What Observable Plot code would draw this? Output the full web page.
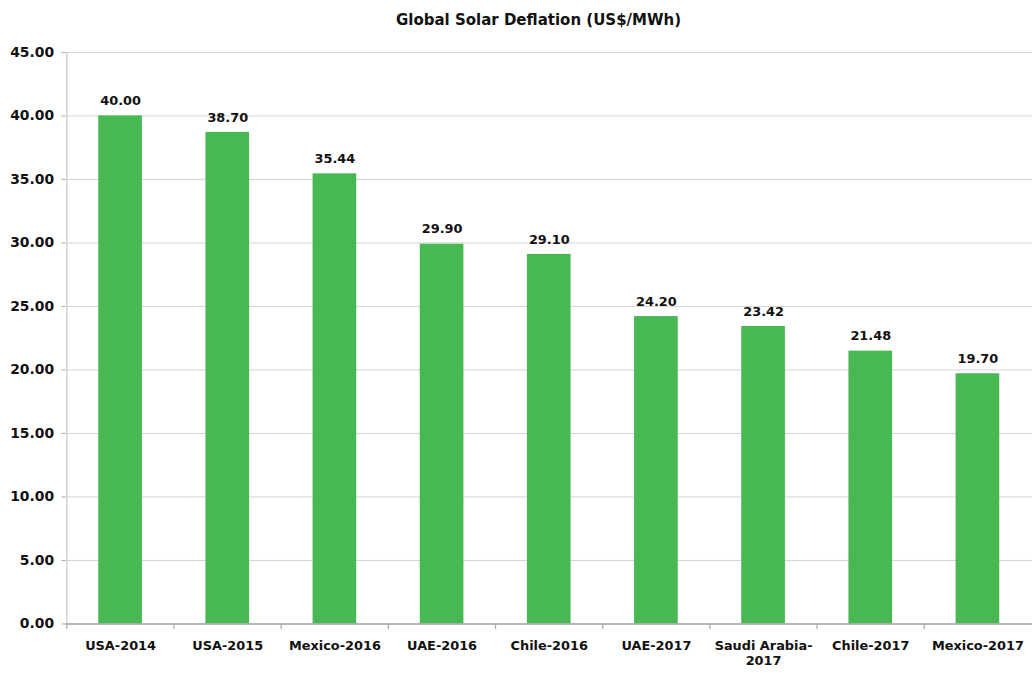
<!DOCTYPE html>
<html>
<head>
<meta charset="utf-8">
<script src="https://cdn.jsdelivr.net/npm/d3@7"></script>
<script src="https://cdn.jsdelivr.net/npm/@observablehq/plot@0.6"></script>
<style>
  html, body { margin: 0; padding: 0; background: #fff; overflow: hidden; }
  body { width: 1032px; height: 673px; font-family: "DejaVu Sans", sans-serif; }
  #title { height: 40px; line-height: 40px; text-align: center; font-weight: bold; font-size: 15px; color: #111; padding-left: 45px; box-sizing: border-box; }
</style>
</head>
<body>
<div id="title">Global Solar Deflation (US$/MWh)</div>
<div id="chart"></div>
<script>
const categories = ["USA-2014", "USA-2015", "Mexico-2016", "UAE-2016", "Chile-2016", "UAE-2017", "Saudi Arabia-2017", "Chile-2017", "Mexico-2017"];
const tickLabels = ["USA-2014", "USA-2015", "Mexico-2016", "UAE-2016", "Chile-2016", "UAE-2017", "Saudi Arabia-\n2017", "Chile-2017", "Mexico-2017"];
const values = [40.00, 38.70, 35.44, 29.90, 29.10, 24.20, 23.42, 21.48, 19.70];
const yTicks = [0, 5, 10, 15, 20, 25, 30, 35, 40, 45];

const data = categories.map((c, i) => ({category: c, value: values[i]}));
const labelOf = new Map(categories.map((c, i) => [c, tickLabels[i]]));

const width = 1040, marginLeft = 66, marginRight = 0;
const step = (width - marginLeft - marginRight) / categories.length;

const chart = Plot.plot({
  width,
  height: 633,
  marginTop: 12,
  marginBottom: 45,
  marginLeft,
  marginRight,
  style: {fontFamily: "DejaVu Sans, sans-serif", fontWeight: "bold", color: "#111", background: "#fff"},
  x: {domain: categories, paddingInner: 0.59, paddingOuter: 0.295, align: 0.5, label: null},
  y: {domain: [0, 45], label: null},
  marks: [
    Plot.gridY(yTicks, {stroke: "#d4d4d4", strokeOpacity: 1, strokeWidth: 1}),
    Plot.ruleX([0], {x: () => categories[0], dx: -step / 2, y1: 0, y2: 45, stroke: "#c8c8c8", strokeWidth: 1.2}),
    Plot.barY(data, {x: "category", y: "value", fill: "#47b852"}),
    Plot.ruleY([0], {stroke: "#a6a6a6", strokeWidth: 1.5}),
    Plot.link(categories, {x1: d => d, x2: d => d, y1: () => 0, y2: () => -0.4, dx: -step / 2, stroke: "#a6a6a6", strokeWidth: 1.2}),
    Plot.text(data, {x: "category", y: "value", text: d => d.value.toFixed(2), dy: -15, fontSize: 13, fontWeight: "bold", fill: "#111"}),
    Plot.axisY(yTicks, {tickFormat: d => d.toFixed(2), tickSize: 4, tickPadding: 8, fontSize: 14, fontWeight: "bold", stroke: "#a6a6a6", label: null}),
    Plot.axisX({tickSize: 0, tickPadding: 15, tickFormat: d => labelOf.get(d), fontSize: 13, fontWeight: "bold", label: null, lineHeight: 1.2})
  ]
});
document.getElementById("chart").appendChild(chart);
</script>
</body>
</html>
